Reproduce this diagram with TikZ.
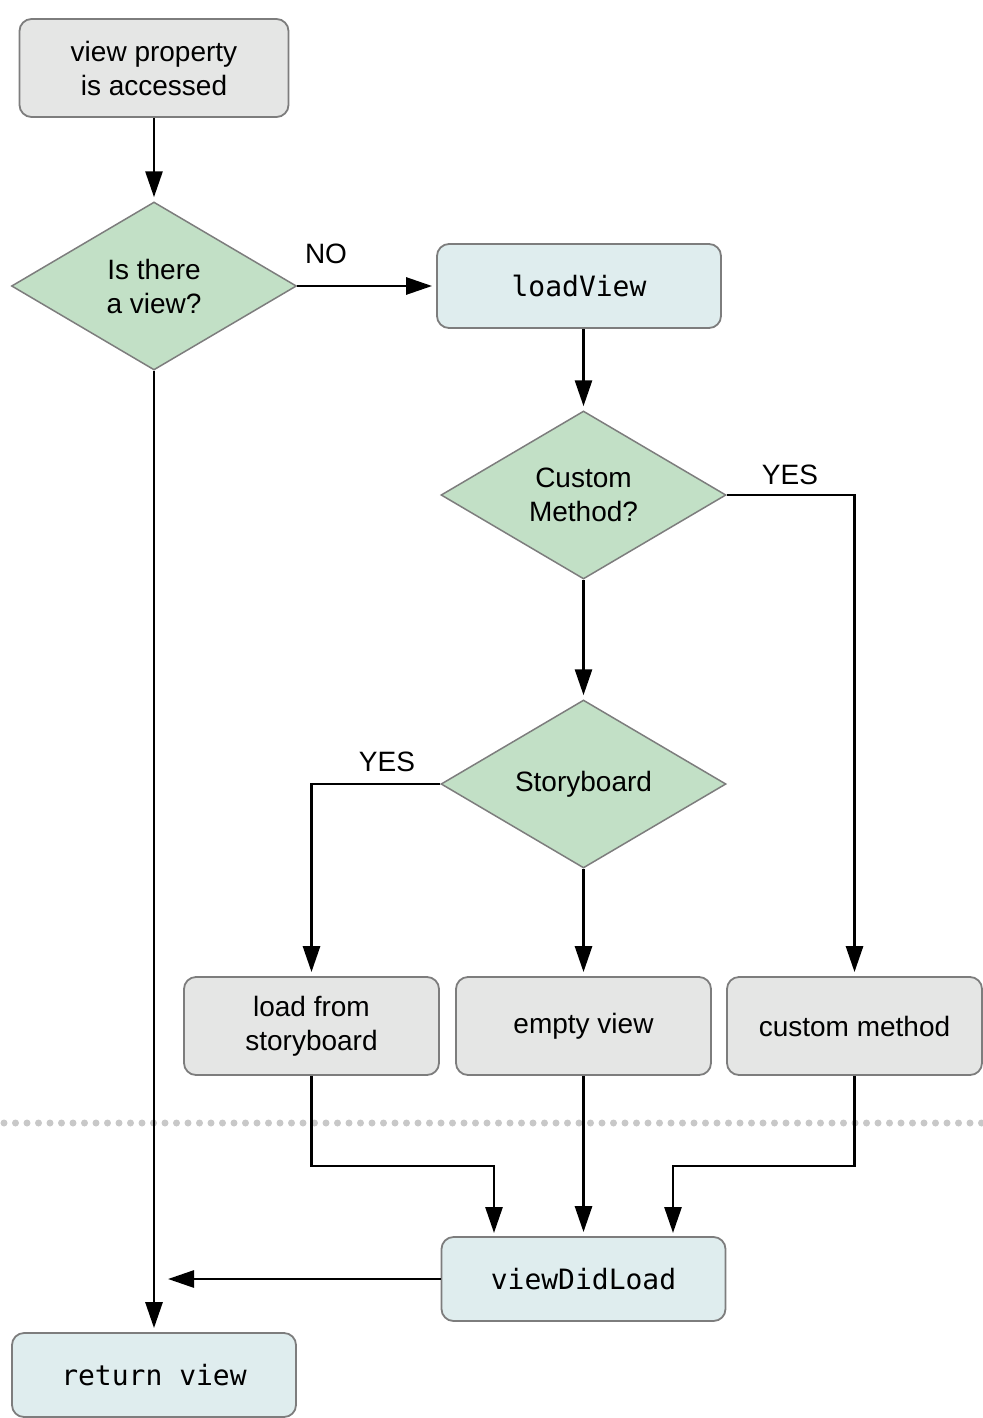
\documentclass[tikz,border=0pt]{standalone}
\usepackage{fontspec}
\setmainfont{Liberation Sans}
\newfontfamily\codefont{DejaVu Sans Mono}
\usetikzlibrary{arrows.meta,shapes.geometric}
\definecolor{boxgray}{RGB}{229,230,229}
\definecolor{boxblue}{RGB}{223,237,238}
\definecolor{decgreen}{RGB}{194,224,198}
\definecolor{edgegray}{RGB}{125,125,125}
\definecolor{dotgray}{RGB}{200,200,200}
\begin{document}
\begin{tikzpicture}[x=1pt,y=-1pt,
  txt/.style={font=\fontsize{28}{34}\selectfont},
  basebox/.style={draw=edgegray, line width=1.8pt, rounded corners=12pt, align=center, inner sep=0pt, txt},
  graybox/.style={basebox, fill=boxgray, minimum width=255pt, minimum height=98pt},
  bluebox/.style={basebox, fill=boxblue, minimum width=284pt, minimum height=84pt, font=\codefont\fontsize{28}{34}\selectfont},
  decision/.style={diamond, draw=edgegray, fill=decgreen, line width=1.5pt, minimum width=285pt, minimum height=168pt, aspect=1.7, inner sep=0pt, align=center, txt},
  conn/.style={line width=2.8pt, -{Triangle[length=26pt,width=17pt]}, shorten >=4pt},
  lbl/.style={txt, inner sep=0pt},
  dotline/.style={dotgray, line width=7pt, line cap=round, dash pattern=on 0pt off 11.5pt}
]
\useasboundingbox (0,0) rectangle (982,1418);

% dotted separator
\coordinate (dl) at (4,1123);
\coordinate (dr) at (982,1123);
\draw[dotline] (dl) -- (dr);

% nodes
\node[graybox, minimum width=269pt] (access) at (154,68) {view property\\is accessed};
\node[decision] (isview) at (154,286) {Is there\\a view?};
\node[bluebox] (loadview) at (579,286) {loadView};
\node[decision] (custom) at (583.5,495) {Custom\\Method?};
\node[decision] (story) at (583.5,784) {Storyboard};
\node[graybox] (loadsb) at (311.5,1026) {load from\\storyboard};
\node[graybox] (empty) at (583.5,1026) {empty view};
\node[graybox] (custmeth) at (854.5,1026) {custom method};
\node[bluebox] (vdl) at (583.5,1279) {viewDidLoad};
\node[bluebox] (ret) at (154,1375) {return view};

% labels
\node[lbl] (no) at (326,254) {NO};
\node[lbl] (yes1) at (790,475) {YES};
\node[lbl] (yes2) at (387,762) {YES};

% helper coordinates
\coordinate (vdlL) at (494,1237);
\coordinate (vdlR) at (673,1237);
\coordinate (join) at (154,1279);

% connectors
\draw[conn] (access.south) -- (isview.north);
\draw[conn] (isview.east) -- (loadview.west);
\draw[conn] (custom.north |- loadview.south) -- (custom.north);
\draw[conn] (custom.east) -| (custmeth.north);
\draw[conn] (custom.south) -- (story.north);
\draw[conn] (story.west) -| (loadsb.north);
\draw[conn] (story.south) -- (empty.north);
\draw[conn] (loadsb.south) -- ++(0,90) -| (vdlL);
\draw[conn] (empty.south) -- (vdl.north);
\draw[conn] (custmeth.south) -- ++(0,90) -| (vdlR);
\draw[conn, shorten >=14pt] (vdl.west) -- (join);
\draw[conn] (isview.south) -- (ret.north);
\end{tikzpicture}
\end{document}
